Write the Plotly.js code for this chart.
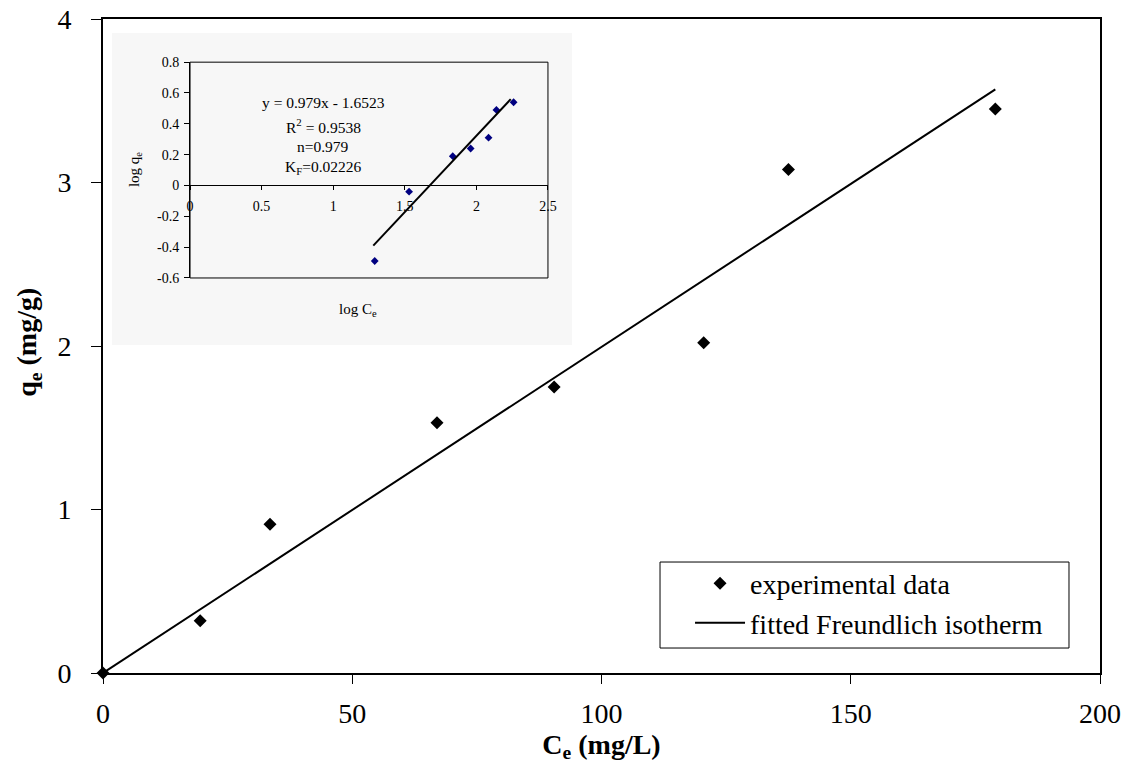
<!DOCTYPE html>
<html>
<head>
<meta charset="utf-8">
<script src="https://cdn.plot.ly/plotly-3.0.1.min.js"></script>
<style>html,body{margin:0;padding:0;background:#fff;}#chart{width:1132px;height:769px;}</style>
</head>
<body>
<div id="chart"></div>
<script>
// Main chart data
const ce = [0, 19.5, 33.5, 67, 90.5, 120.5, 137.5, 179];
const qe = [0, 0.32, 0.91, 1.53, 1.75, 2.02, 3.08, 3.45];
const fitCe = [0, 179];
const fitQe = [0, 3.57];
const mainXTicks = [0, 50, 100, 150, 200];
const mainYTicks = [0, 1, 2, 3, 4];

// Inset (log-log) data
const logCe = [1.29, 1.53, 1.835, 1.96, 2.085, 2.14, 2.26];
const logQe = [-0.49, -0.04, 0.19, 0.24, 0.31, 0.49, 0.54];
const logFitX = [1.28, 2.24];
const logFitY = [-0.39, 0.56];
const insetXTicks = [0, 0.5, 1, 1.5, 2, 2.5];
const insetXLabels = ["0", "0.5", "1", "1.5", "2", "2.5"];
const insetYTicks = [-0.6, -0.4, -0.2, 0, 0.2, 0.4, 0.6, 0.8];
const insetYLabels = ["-0.6", "-0.4", "-0.2", "0", "0.2", "0.4", "0.6", "0.8"];
const insetText = ["y = 0.979x - 1.6523", "R<sup>2</sup> = 0.9538", "n=0.979", "K<sub>F</sub>=0.02226"];

const SERIF = "Liberation Serif, Times New Roman, serif";

const traces = [
  {x: ce, y: qe, type: "scatter", mode: "markers", name: "experimental data",
   marker: {symbol: "diamond", size: 10, color: "#000"}, cliponaxis: false},
  {x: fitCe, y: fitQe, type: "scatter", mode: "lines", name: "fitted Freundlich isotherm",
   line: {color: "#000", width: 2}},
  {x: logCe, y: logQe, xaxis: "x2", yaxis: "y2", type: "scatter", mode: "markers", showlegend: false,
   marker: {symbol: "diamond", size: 6, color: "#000080"}},
  {x: logFitX, y: logFitY, xaxis: "x2", yaxis: "y2", type: "scatter", mode: "lines", showlegend: false,
   line: {color: "#000", width: 2}}
];

const insetYDomain = [0.604, 0.934];
const zeroPos = insetYDomain[0] + (insetYDomain[1] - insetYDomain[0]) * (0.6 / 1.4);

const annotations = insetText.map((t, i) => ({
  text: t, xref: "paper", yref: "paper", x: 0.2207, y: [0.8716, 0.8364, 0.8058, 0.7737][i],
  xanchor: "center", yanchor: "middle", showarrow: false,
  font: {family: SERIF, size: 15.5, color: "#000"}
}));
annotations.push({
  text: "log C<sub>e</sub>", xref: "paper", yref: "paper", x: 0.2558, y: 0.555,
  xanchor: "center", yanchor: "middle", showarrow: false, font: {family: SERIF, size: 15, color: "#000"}
});
annotations.push({
  text: "log q<sub>e</sub>", xref: "paper", yref: "paper", x: 0.0321, y: 0.769, textangle: -90,
  xanchor: "center", yanchor: "middle", showarrow: false, font: {family: SERIF, size: 15, color: "#000"}
});
// main y-axis title
annotations.push({
  text: "<b>q<sub>e</sub> (mg/g)</b>", xref: "paper", yref: "paper", x: -0.0742, y: 0.505, textangle: -90,
  xanchor: "center", yanchor: "middle", showarrow: false, font: {family: SERIF, size: 28, color: "#000"}
});

const layout = {
  width: 1132, height: 769,
  margin: {l: 103, r: 32, t: 19, b: 96},
  paper_bgcolor: "#fff", plot_bgcolor: "rgba(0,0,0,0)",
  font: {family: SERIF, color: "#000"},
  showlegend: true,
  legend: {x: 0.5888, y: 0.1750, xanchor: "left", yanchor: "top", bgcolor: "rgba(0,0,0,0)",
           borderwidth: 0, font: {family: SERIF, size: 28, color: "#000"},
           itemwidth: 50},
  xaxis: {range: [0, 200], tickvals: mainXTicks, showgrid: false, zeroline: false,
          showline: true, linewidth: 2, linecolor: "#000", mirror: true,
          ticks: "outside", ticklen: 9, tickwidth: 1, tickcolor: "#000",
          tickfont: {family: SERIF, size: 28}, ticklabelstandoff: 5,
          title: {text: "<b>C<sub>e</sub> (mg/L)</b>", font: {family: SERIF, size: 28}, standoff: 3}},
  yaxis: {range: [0, 4], tickvals: mainYTicks, showgrid: false, zeroline: false,
          showline: true, linewidth: 2, linecolor: "#000", mirror: true,
          ticks: "outside", ticklen: 10, tickwidth: 1, tickcolor: "#000",
          tickfont: {family: SERIF, size: 28}, ticklabelstandoff: 14},
  xaxis2: {domain: [0.0873, 0.4463], range: [0, 2.5], anchor: "free", position: zeroPos,
           tickvals: insetXTicks, ticktext: insetXLabels, showgrid: false, zeroline: false,
           showline: true, linewidth: 1, linecolor: "#000", ticks: "outside", ticklen: 4,
           tickcolor: "#000", tickfont: {family: SERIF, size: 14}, ticklabelstandoff: 4},
  yaxis2: {domain: insetYDomain, range: [-0.6, 0.8], anchor: "x2",
           tickvals: insetYTicks, ticktext: insetYLabels, showgrid: false, zeroline: false,
           showline: true, linewidth: 1, linecolor: "#000", ticks: "outside", ticklen: 5,
           tickcolor: "#000", tickfont: {family: SERIF, size: 14}, ticklabelstandoff: 2},
  shapes: [
    {type: "rect", xref: "paper", yref: "paper", x0: 0.009, x1: 0.4704, y0: 0.5015, y1: 0.9786,
     fillcolor: "#f7f7f7", line: {width: 0}, layer: "below"},
    {type: "rect", xref: "x2 domain", yref: "y2 domain", x0: 0, x1: 1, y0: 0, y1: 1,
     line: {color: "#000", width: 1}, fillcolor: "rgba(0,0,0,0)", layer: "above"},
    {type: "rect", xref: "paper", yref: "paper", x0: 0.5587, x1: 0.9689, y0: 0.0382, y1: 0.1697,
     fillcolor: "#fff", line: {color: "#000", width: 1}, layer: "below"}
  ],
  annotations: annotations
};

Plotly.newPlot("chart", traces, layout, {staticPlot: true, displayModeBar: false});
</script>
</body>
</html>
